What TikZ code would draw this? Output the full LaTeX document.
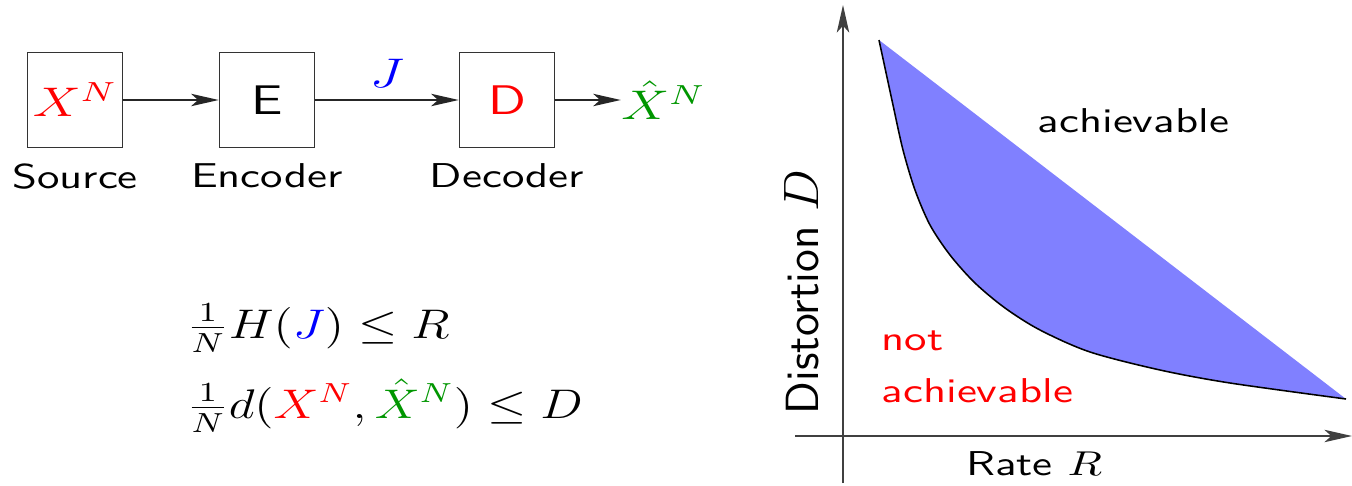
\documentclass[tikz,border=0pt]{standalone}
\usepackage{amsmath}
\usepackage{xcolor}
\usepackage{tikz}
\usetikzlibrary{arrows.meta,positioning}
\definecolor{hatgreen}{RGB}{0,150,0}
\definecolor{regfill}{HTML}{8080FF}
\newcommand{\wide}[2][1.3]{\scalebox{#1}[1]{#2}}
\newcommand{\rdcurve}{plot[smooth, tension=0.5] coordinates {(879,40) (893,105) (903,150) (915,190) (930,225) (950,255) (975,283) (1005,308) (1040,330) (1090,352) (1160,370) (1230,383) (1346,399)}}
\tikzset{
  blk/.style={draw=black!80, line width=0.5pt, rectangle, minimum size=27.5pt, inner sep=0pt, font=\large\sffamily},
  lbl/.style={font=\sffamily\fontsize{10}{15}\selectfont, inner sep=0pt},
  big/.style={font=\large, inner sep=0pt},
  arr/.style={-{Stealth[length=8pt, width=3.6pt, inset=2pt]}, line width=0.5pt, black!85},
  axis/.style={-{Stealth[length=8pt, width=3.6pt, inset=2pt]}, line width=0.55pt, black!75}
}

\begin{document}
\begin{tikzpicture}[x=0.29pt, y=-0.29pt]
\useasboundingbox (0,0) rectangle (1352,486);
% source -> encoder -> decoder
\node[blk] (src) at (75,100) {\wide{\color{red}$X^N$}};
\node[blk] (enc) at (267,100) {\wide{E}};
\node[blk] (dec) at (507,100) {\wide{\color{red}D}};
\node[big, right=19pt of dec] (est) {\wide{\color{hatgreen}$\hat{X}^N$}};
\node[lbl, below=4.3pt of src] (srclbl) {\wide{Source}};
\node[lbl, below=4.3pt of enc] (enclbl) {\wide{Encoder}};
\node[lbl, below=4.3pt of dec] (declbl) {\wide{Decoder}};
\draw[arr] (src) -- (enc);
\draw[arr] (enc) -- node[big, above=3.5pt] {\wide{\color{blue}$J$}} (dec);
\draw[arr] (dec) -- (est);
% constraints
\node[big, anchor=base west] (eqrate) at (186,338) {\wide[1.22]{$\frac{1}{N}H({\color{blue}J})\le R$}};
\node[big, anchor=base west] (eqdist) at (186,418) {\wide[1.22]{$\frac{1}{N}d({\color{red}X^N},{\color{hatgreen}\hat{X}^N})\le D$}};
% rate-distortion plane
\coordinate (ybot) at (843,483);
\coordinate (ytop) at (843,5);
\coordinate (xlft) at (795,436);
\coordinate (xrgt) at (1352,436);
\fill[regfill] \rdcurve -- cycle;
\draw[line width=0.45pt] \rdcurve;
\draw[axis] (ybot) -- (ytop);
\draw[axis] (xlft) -- (xrgt);
\node[lbl, anchor=base west] (ach) at (1037,132) {\wide{achievable}};
\node[lbl, anchor=base west, align=left, text=red] (nach) at (881,402) {\wide{not}\\\wide{achievable}};
\node[lbl, anchor=base] (ratelbl) at (1034,475) {\wide{Rate $R$}};
\node[font=\sffamily\fontsize{13.5}{15}\selectfont, inner sep=0pt, rotate=90, anchor=base] (distlbl) at (818,292) {Distortion $D$};
\end{tikzpicture}
\end{document}
